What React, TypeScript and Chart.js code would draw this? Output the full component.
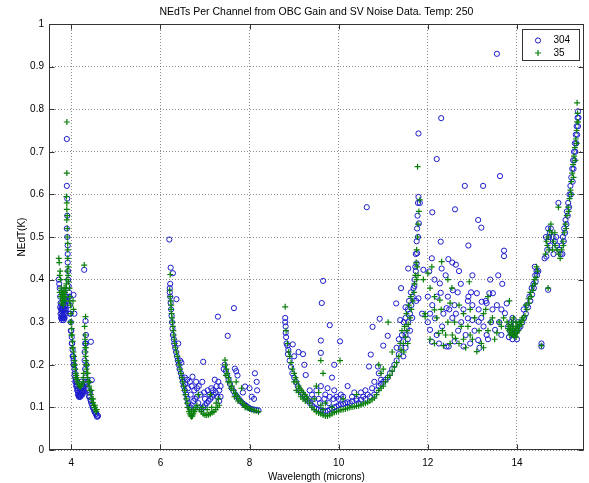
import React, { useEffect, useRef } from "react";
import { Chart, registerables } from "chart.js";

Chart.register(...registerables);

const TITLE = "NEdTs Per Channel from OBC Gain and SV Noise Data. Temp: 250";
const X_LABEL = "Wavelength (microns)";
const Y_LABEL = "NEdT(K)";
const SERIES_NAMES = ["304", "35"];
const X_MIN = 3.5;
const X_MAX = 15.5;
const Y_MIN = 0;
const Y_MAX = 1;
const X_TICKS = [4, 6, 8, 10, 12, 14];
const Y_TICKS = [0, 0.1, 0.2, 0.3, 0.4, 0.5, 0.6, 0.7, 0.8, 0.9, 1];

type P = [number, number];

// ---- shortwave band (3.7 - 4.6 um)
const band1Ch304: P[] = [
  [3.72, 0.4], [3.73, 0.39], [3.74, 0.38], [3.75, 0.36], [3.76, 0.345], [3.77, 0.33], [3.78, 0.32],
  [3.79, 0.315], [3.8, 0.31], [3.81, 0.31], [3.82, 0.315], [3.83, 0.32], [3.84, 0.33], [3.85, 0.325],
  [3.86, 0.33], [3.87, 0.34], [3.88, 0.35], [3.89, 0.36], [3.77, 0.31], [3.79, 0.33], [3.81, 0.335],
  [3.83, 0.34], [3.8, 0.345], [3.84, 0.31], [3.86, 0.355],
  [3.76, 0.32], [3.78, 0.335], [3.8, 0.325], [3.82, 0.33], [3.84, 0.345], [3.85, 0.31], [3.87, 0.32],
  [3.88, 0.33], [3.75, 0.335], [3.79, 0.305], [3.83, 0.305],
  [3.9, 0.73], [3.9, 0.62], [3.91, 0.59], [3.91, 0.55], [3.9, 0.52], [3.91, 0.5], [3.92, 0.48],
  [3.92, 0.46], [3.92, 0.44], [3.93, 0.42], [3.93, 0.4], [3.94, 0.385], [3.95, 0.37], [4.05, 0.364],
  [4.07, 0.32],
  [3.96, 0.36], [3.97, 0.34], [3.98, 0.32], [3.99, 0.3], [4.0, 0.28], [4.01, 0.265], [4.02, 0.25],
  [4.03, 0.235], [4.04, 0.22], [4.05, 0.21], [4.06, 0.2], [4.07, 0.19], [4.08, 0.18], [4.09, 0.17],
  [4.1, 0.165], [4.11, 0.16], [4.12, 0.155], [4.13, 0.15], [4.14, 0.145], [4.15, 0.14],
  [3.97, 0.32], [3.99, 0.28], [4.01, 0.25], [4.03, 0.22], [4.05, 0.2], [4.07, 0.175], [4.09, 0.16],
  [4.11, 0.15], [4.13, 0.14], [4.15, 0.13], [4.17, 0.125],
  [4.16, 0.135], [4.17, 0.13], [4.18, 0.128], [4.19, 0.125], [4.2, 0.125], [4.21, 0.127], [4.22, 0.13],
  [4.23, 0.133], [4.24, 0.137], [4.25, 0.14], [4.26, 0.145], [4.27, 0.15], [4.18, 0.145], [4.2, 0.14],
  [4.22, 0.145], [4.24, 0.15], [4.19, 0.155], [4.23, 0.16], [4.21, 0.135], [4.25, 0.13], [4.27, 0.135],
  [4.28, 0.145],
  [4.29, 0.423], [4.32, 0.303], [4.31, 0.25], [4.3, 0.23], [4.3, 0.21], [4.31, 0.19], [4.32, 0.17],
  [4.33, 0.16], [4.34, 0.2], [4.33, 0.25], [4.33, 0.27],
  [4.35, 0.155], [4.37, 0.145], [4.39, 0.135], [4.41, 0.125], [4.43, 0.118], [4.45, 0.11], [4.47, 0.105],
  [4.49, 0.1], [4.51, 0.095], [4.53, 0.09], [4.55, 0.085], [4.57, 0.08], [4.58, 0.078], [4.44, 0.254],
  [4.46, 0.164], [4.38, 0.16], [4.42, 0.135], [4.36, 0.14], [4.4, 0.125], [4.44, 0.115], [4.48, 0.1],
  [4.52, 0.09], [4.56, 0.085], [4.6, 0.08],
];

const band1Ch35: P[] = [
  [3.72, 0.45], [3.73, 0.44], [3.75, 0.42], [3.74, 0.41], [3.76, 0.4], [3.77, 0.38], [3.78, 0.37],
  [3.79, 0.36], [3.8, 0.355], [3.81, 0.35], [3.82, 0.36], [3.83, 0.37], [3.84, 0.365], [3.85, 0.36],
  [3.86, 0.37], [3.87, 0.375], [3.88, 0.38], [3.89, 0.39], [3.78, 0.345], [3.82, 0.34], [3.86, 0.35],
  [3.74, 0.37], [3.76, 0.36], [3.8, 0.37], [3.84, 0.38], [3.88, 0.36],
  [3.9, 0.77], [3.9, 0.65], [3.89, 0.595], [3.9, 0.58], [3.9, 0.565], [3.91, 0.55], [3.9, 0.54],
  [3.91, 0.52], [3.91, 0.5], [3.92, 0.485], [3.92, 0.47], [3.92, 0.45], [3.93, 0.43], [3.93, 0.41],
  [3.94, 0.395], [4.04, 0.35], [4.05, 0.33], [3.9, 0.4], [3.91, 0.42],
  [3.96, 0.38], [3.97, 0.36], [3.98, 0.34], [3.99, 0.32], [4.0, 0.3], [4.01, 0.285], [4.02, 0.27],
  [4.03, 0.255], [4.04, 0.24], [4.05, 0.23], [4.06, 0.22], [4.07, 0.21], [4.08, 0.2], [4.09, 0.19],
  [4.1, 0.18], [4.11, 0.175], [4.12, 0.17], [4.13, 0.165], [4.14, 0.16], [4.16, 0.155], [4.18, 0.15],
  [4.2, 0.148], [4.22, 0.15], [4.24, 0.155], [4.26, 0.16], [4.27, 0.17], [4.28, 0.18],
  [3.96, 0.35], [3.98, 0.3], [4.0, 0.27], [4.02, 0.24], [4.06, 0.2], [4.1, 0.17],
  [4.29, 0.434], [4.32, 0.313], [4.31, 0.27], [4.31, 0.26], [4.32, 0.25], [4.31, 0.24], [4.32, 0.23],
  [4.32, 0.22], [4.33, 0.21], [4.33, 0.2], [4.34, 0.19], [4.35, 0.18], [4.36, 0.17], [4.3, 0.29],
  [4.33, 0.24], [4.35, 0.2], [4.37, 0.18],
  [4.38, 0.16], [4.4, 0.15], [4.42, 0.14], [4.44, 0.13], [4.46, 0.12], [4.48, 0.112], [4.5, 0.105],
  [4.52, 0.1], [4.54, 0.095], [4.56, 0.09], [4.41, 0.16], [4.45, 0.14], [4.49, 0.12], [4.53, 0.105],
  [4.57, 0.095],
];

// ---- midwave band (6.2 - 8.2 um)
const band2Ch304: P[] = [
  [6.2, 0.494], [6.23, 0.428], [6.28, 0.415], [6.22, 0.39], [6.21, 0.38], [6.21, 0.37], [6.36, 0.354],
  [6.22, 0.36], [6.23, 0.345], [6.24, 0.33], [6.25, 0.315], [6.26, 0.3], [6.27, 0.285], [6.28, 0.27],
  [6.3, 0.26], [6.31, 0.25], [6.33, 0.24], [6.35, 0.23], [6.37, 0.22], [6.39, 0.21], [6.41, 0.2],
  [6.43, 0.19], [6.46, 0.18], [6.48, 0.17], [6.5, 0.16], [6.52, 0.15], [6.55, 0.14], [6.58, 0.13],
  [6.6, 0.12], [6.4, 0.25], [6.44, 0.21], [6.47, 0.205], [6.55, 0.17], [6.6, 0.165], [6.66, 0.16],
  [6.72, 0.172], [6.96, 0.207], [6.94, 0.16], [7.22, 0.165], [7.29, 0.313], [7.51, 0.268], [7.65, 0.333],
  [6.62, 0.11], [6.65, 0.1], [6.68, 0.1], [6.7, 0.105], [6.74, 0.115], [6.78, 0.12], [6.82, 0.125],
  [6.85, 0.11], [6.88, 0.1], [6.92, 0.095], [6.96, 0.1], [7.0, 0.105], [7.04, 0.11], [7.08, 0.115],
  [7.12, 0.12], [7.16, 0.125], [7.2, 0.13], [7.24, 0.135], [7.28, 0.125], [7.32, 0.115], [6.9, 0.13],
  [6.98, 0.135], [7.06, 0.14], [7.14, 0.145], [6.76, 0.14], [6.82, 0.145], [7.3, 0.16], [7.35, 0.15],
  [6.55, 0.155], [6.62, 0.145], [6.68, 0.13], [6.7, 0.15], [6.8, 0.16], [6.86, 0.15], [7.0, 0.12],
  [7.1, 0.13], [7.18, 0.14], [7.26, 0.15], [7.32, 0.14], [7.35, 0.125],
  [7.42, 0.19], [7.44, 0.2], [7.47, 0.185], [7.5, 0.175], [7.53, 0.165], [7.56, 0.155], [7.6, 0.145],
  [7.64, 0.138], [7.68, 0.13], [7.72, 0.125], [7.76, 0.12], [7.8, 0.115], [7.84, 0.11], [7.88, 0.107],
  [7.92, 0.104], [7.96, 0.101], [8.0, 0.098], [8.05, 0.096], [8.1, 0.095], [8.15, 0.094], [8.2, 0.093],
  [7.67, 0.191], [7.7, 0.185], [7.73, 0.175], [7.9, 0.149], [8.0, 0.145], [8.12, 0.18], [8.16, 0.16],
  [8.17, 0.14], [7.85, 0.135], [8.05, 0.125], [8.1, 0.12],
];

const band2Ch35: P[] = [
  [6.22, 0.412], [6.21, 0.375], [6.22, 0.36], [6.23, 0.35], [6.24, 0.34], [6.24, 0.33], [6.25, 0.32],
  [6.26, 0.31], [6.27, 0.3], [6.28, 0.29], [6.29, 0.28], [6.3, 0.27], [6.31, 0.26], [6.32, 0.25],
  [6.34, 0.24], [6.36, 0.23], [6.38, 0.22], [6.4, 0.21], [6.42, 0.2], [6.44, 0.19], [6.46, 0.18],
  [6.48, 0.17], [6.5, 0.16], [6.52, 0.15], [6.54, 0.14], [6.56, 0.13], [6.58, 0.12], [6.6, 0.11],
  [6.62, 0.1], [6.64, 0.09], [6.66, 0.085], [6.68, 0.08], [6.7, 0.078], [6.72, 0.08], [6.74, 0.085],
  [6.76, 0.09], [6.78, 0.095], [6.8, 0.1], [6.82, 0.105], [6.66, 0.095], [6.7, 0.09], [6.74, 0.095],
  [6.88, 0.095], [6.92, 0.09], [6.96, 0.085], [7.0, 0.082], [7.04, 0.082], [7.08, 0.083], [7.12, 0.085],
  [7.16, 0.088], [7.2, 0.09], [7.24, 0.095], [7.28, 0.1], [7.32, 0.105], [6.95, 0.1], [7.05, 0.095],
  [7.15, 0.1], [7.25, 0.11], [7.3, 0.12], [6.85, 0.13], [7.12, 0.13],
  [7.45, 0.211], [7.46, 0.2], [7.48, 0.19], [7.5, 0.18], [7.53, 0.17], [7.56, 0.16], [7.6, 0.15],
  [7.64, 0.14], [7.68, 0.133], [7.72, 0.127], [7.76, 0.12], [7.8, 0.115], [7.84, 0.11], [7.88, 0.106],
  [7.92, 0.102], [7.96, 0.099], [8.0, 0.097], [8.05, 0.095], [8.1, 0.093], [8.15, 0.092], [8.2, 0.09],
  [7.7, 0.16], [7.82, 0.145], [7.47, 0.175], [7.52, 0.16], [7.58, 0.145], [7.66, 0.125], [7.74, 0.115],
  [7.9, 0.1],
];

// ---- longwave band (8.8 - 11.8 um)
const band3Ch304: P[] = [
  [8.8, 0.31], [8.8, 0.3], [8.81, 0.29], [8.81, 0.275], [8.82, 0.265], [8.83, 0.25], [8.85, 0.245],
  [8.97, 0.248], [8.86, 0.225], [9.0, 0.22], [9.1, 0.23], [9.2, 0.225], [9.23, 0.2], [9.26, 0.176],
  [8.87, 0.235], [8.9, 0.21], [8.93, 0.195], [8.96, 0.18], [9.0, 0.17], [9.04, 0.16], [9.08, 0.15],
  [9.12, 0.14], [9.16, 0.135], [9.2, 0.13], [9.24, 0.125], [9.28, 0.12], [9.32, 0.115],
  [9.36, 0.11], [9.4, 0.105], [9.45, 0.1], [9.5, 0.097], [9.55, 0.095], [9.6, 0.093], [9.65, 0.092],
  [9.7, 0.09], [9.75, 0.092], [9.8, 0.095], [9.85, 0.097], [9.9, 0.1], [9.95, 0.102], [10.0, 0.105],
  [10.05, 0.107], [10.1, 0.108], [10.15, 0.11], [10.2, 0.112], [10.3, 0.114], [10.4, 0.116],
  [10.5, 0.118], [10.6, 0.12], [10.7, 0.125], [10.8, 0.13],
  [9.4, 0.13], [9.5, 0.14], [9.55, 0.12], [9.6, 0.15], [9.7, 0.13], [9.75, 0.145], [9.8, 0.125],
  [9.85, 0.17], [9.9, 0.14], [9.95, 0.125], [10.05, 0.13], [10.2, 0.15], [10.3, 0.125], [10.4, 0.12],
  [10.5, 0.135], [10.6, 0.14], [9.35, 0.14], [9.45, 0.12], [9.58, 0.11], [9.68, 0.12], [9.78, 0.11],
  [9.88, 0.12], [10.0, 0.12], [10.1, 0.125], [10.25, 0.11], [10.35, 0.135], [10.45, 0.11],
  [10.55, 0.125], [10.65, 0.13], [10.75, 0.145], [10.8, 0.16],
  [9.65, 0.397], [9.62, 0.345], [9.8, 0.293], [9.6, 0.257], [10.03, 0.255],
  [9.6, 0.228], [9.9, 0.2], [10.68, 0.196], [10.72, 0.224], [10.76, 0.289], [10.92, 0.308], [11.0, 0.245],
  [11.1, 0.268], [11.29, 0.344], [11.4, 0.38], [11.5, 0.335], [11.38, 0.305], [10.88, 0.196],
  [10.9, 0.18], [10.95, 0.165], [10.63, 0.57],
  [10.85, 0.14], [10.9, 0.15], [10.95, 0.155], [11.0, 0.16], [11.05, 0.165], [11.1, 0.17], [11.15, 0.18],
  [11.2, 0.19], [11.25, 0.2], [11.3, 0.21], [11.35, 0.225], [11.4, 0.24], [11.45, 0.255], [11.5, 0.27],
  [11.53, 0.285], [11.56, 0.3], [11.6, 0.32], [11.63, 0.34], [11.66, 0.36], [11.68, 0.38], [11.7, 0.4],
  [11.72, 0.43], [11.73, 0.46], [11.75, 0.49], [11.76, 0.52], [11.77, 0.55], [11.78, 0.58],
  [11.79, 0.594], [11.82, 0.58], [11.8, 0.532], [11.78, 0.5], [11.76, 0.462], [11.75, 0.438],
  [11.73, 0.42], [11.56, 0.426], [11.7, 0.385], [11.74, 0.35],
  [11.3, 0.24], [11.35, 0.26], [11.42, 0.27], [11.46, 0.3], [11.5, 0.31], [11.55, 0.33], [11.58, 0.35],
  [11.62, 0.37], [11.45, 0.22], [11.5, 0.24], [11.55, 0.26], [11.6, 0.28], [11.65, 0.31],
];

const band3Ch35: P[] = [
  [8.8, 0.336], [8.82, 0.28], [8.85, 0.25], [8.88, 0.23], [8.9, 0.22], [8.93, 0.205], [8.96, 0.19],
  [9.0, 0.18], [9.03, 0.17], [9.06, 0.16], [9.1, 0.15], [9.13, 0.145], [9.16, 0.14], [9.2, 0.135],
  [9.24, 0.13], [9.28, 0.125], [9.3, 0.12], [9.0, 0.16], [9.05, 0.14], [9.1, 0.135], [9.15, 0.125],
  [9.2, 0.12], [9.25, 0.115],
  [9.35, 0.11], [9.4, 0.1], [9.45, 0.095], [9.5, 0.09], [9.55, 0.087], [9.6, 0.085], [9.65, 0.082],
  [9.7, 0.08], [9.75, 0.08], [9.8, 0.082], [9.85, 0.085], [9.9, 0.088], [9.95, 0.09], [10.0, 0.092],
  [10.05, 0.094], [10.1, 0.095], [10.15, 0.096], [10.2, 0.098], [10.25, 0.1], [10.3, 0.101],
  [10.35, 0.102], [10.4, 0.103], [10.45, 0.104], [10.5, 0.106], [10.55, 0.108], [10.6, 0.11],
  [10.65, 0.112], [10.7, 0.115], [10.75, 0.118], [10.8, 0.122], [9.45, 0.12], [9.6, 0.105], [9.7, 0.11],
  [9.65, 0.095], [9.85, 0.1],
  [9.6, 0.21], [10.03, 0.21], [9.65, 0.18], [9.5, 0.15], [9.55, 0.135], [11.11, 0.3], [10.9, 0.2],
  [10.95, 0.18], [11.0, 0.19], [10.4, 0.13], [10.1, 0.12], [11.2, 0.23],
  [10.85, 0.13], [10.9, 0.14], [10.95, 0.145], [11.0, 0.15], [11.05, 0.16], [11.1, 0.17], [11.15, 0.175],
  [11.2, 0.185], [11.25, 0.195], [11.3, 0.205], [11.35, 0.22], [11.4, 0.235], [11.45, 0.25], [11.5, 0.265],
  [11.53, 0.28], [11.56, 0.295], [11.6, 0.31], [11.63, 0.33], [11.66, 0.35], [11.69, 0.37], [11.7, 0.39],
  [11.72, 0.41], [11.74, 0.44], [11.75, 0.47], [11.77, 0.5], [11.78, 0.53], [11.8, 0.56], [11.82, 0.587],
  [11.77, 0.665], [11.78, 0.41], [11.76, 0.43], [11.75, 0.4],
  [11.38, 0.25], [11.42, 0.28], [11.48, 0.29], [11.52, 0.32], [11.57, 0.34], [11.62, 0.36],
  [11.46, 0.23], [11.55, 0.25],
];

// ---- very-longwave band (11.8 - 15.4 um)
const band4Ch304: P[] = [
  [12.3, 0.779], [11.79, 0.743], [12.2, 0.683], [12.83, 0.62], [13.24, 0.62], [13.62, 0.643],
  [12.61, 0.565], [12.1, 0.558], [13.13, 0.54], [13.2, 0.522], [12.29, 0.489], [12.91, 0.48],
  [13.71, 0.468], [13.71, 0.455], [12.46, 0.448], [12.55, 0.44], [12.63, 0.435], [13.55, 0.93],
  [11.9, 0.423], [12.03, 0.419], [12.09, 0.45], [12.31, 0.426], [12.27, 0.391], [12.29, 0.369],
  [12.74, 0.39], [12.97, 0.37], [12.91, 0.36], [13.1, 0.368], [13.21, 0.348], [13.3, 0.35],
  [13.38, 0.368], [13.46, 0.368], [13.58, 0.41], [13.67, 0.39], [12.67, 0.37], [12.56, 0.375],
  [11.79, 0.356], [11.87, 0.32], [12.05, 0.32], [12.16, 0.309], [12.42, 0.333], [12.48, 0.33],
  [12.63, 0.32], [12.9, 0.35], [13.14, 0.33], [13.32, 0.345], [12.9, 0.309], [13.0, 0.305],
  [13.14, 0.301], [13.51, 0.282], [13.73, 0.321], [13.77, 0.344], [12.05, 0.282], [12.32, 0.29],
  [12.68, 0.28], [12.47, 0.243], [12.8, 0.243], [12.42, 0.243], [12.09, 0.254], [13.13, 0.258],
  [13.16, 0.24], [13.32, 0.27], [13.25, 0.29], [12.2, 0.27], [12.0, 0.3], [13.42, 0.3], [13.6, 0.3],
  [12.55, 0.31], [12.75, 0.3], [13.05, 0.28],
  [12.0, 0.36], [12.1, 0.34], [12.2, 0.36], [12.35, 0.32], [12.45, 0.36], [12.6, 0.34], [12.8, 0.33],
  [12.85, 0.27], [13.0, 0.34], [13.2, 0.31], [13.45, 0.33], [13.55, 0.34], [13.65, 0.33], [12.25, 0.25],
  [12.6, 0.255], [12.95, 0.25], [13.35, 0.26], [13.65, 0.27], [12.15, 0.4], [12.4, 0.41], [12.7, 0.42],
  [13.0, 0.41], [13.4, 0.4],
  [13.8, 0.29], [13.84, 0.28], [13.88, 0.275], [13.92, 0.27], [13.96, 0.275], [14.0, 0.28],
  [14.04, 0.285], [14.08, 0.29], [14.12, 0.3], [14.16, 0.31], [13.86, 0.3], [13.9, 0.31],
  [13.95, 0.295], [14.02, 0.3], [13.82, 0.265], [13.9, 0.26], [14.0, 0.26],
  [14.2, 0.32], [14.25, 0.335], [14.3, 0.35], [14.34, 0.365], [14.38, 0.38], [14.42, 0.395],
  [14.45, 0.41], [14.48, 0.42], [14.4, 0.43], [14.55, 0.243], [14.55, 0.25], [14.7, 0.376],
  [14.15, 0.33], [14.22, 0.34], [14.28, 0.36], [14.33, 0.38], [14.37, 0.39], [14.41, 0.41], [14.44, 0.42],
  [14.62, 0.45], [14.66, 0.454], [14.68, 0.47], [14.7, 0.49], [14.72, 0.5], [14.74, 0.51], [14.76, 0.52],
  [14.8, 0.5], [14.85, 0.49], [14.9, 0.48], [14.95, 0.47], [14.98, 0.46], [14.7, 0.52], [14.75, 0.48],
  [14.82, 0.46], [14.88, 0.5], [14.65, 0.5], [14.93, 0.58],
  [15.0, 0.48], [15.03, 0.5], [15.06, 0.52], [15.09, 0.54], [15.12, 0.56], [15.15, 0.58], [15.18, 0.6],
  [15.2, 0.62], [15.22, 0.64], [15.24, 0.66], [15.26, 0.68], [15.28, 0.7], [15.3, 0.72], [15.32, 0.74],
  [15.34, 0.76], [15.36, 0.78], [15.37, 0.795],
  [15.02, 0.46], [15.05, 0.49], [15.08, 0.51], [15.11, 0.53], [15.14, 0.55], [15.17, 0.57], [15.21, 0.6],
  [15.25, 0.63], [15.27, 0.66], [15.29, 0.68], [15.31, 0.7], [15.33, 0.72], [15.35, 0.74], [15.37, 0.76],
  [15.38, 0.78],
];

const band4Ch35: P[] = [
  [12.31, 0.442], [12.09, 0.43],
  [11.9, 0.4], [12.0, 0.415], [12.54, 0.38], [12.93, 0.395], [12.27, 0.352], [12.15, 0.329],
  [11.94, 0.32], [12.5, 0.345], [13.3, 0.33], [13.35, 0.36], [12.7, 0.34], [12.95, 0.33], [13.05, 0.31],
  [13.4, 0.3], [13.55, 0.275], [13.83, 0.35],
  [12.24, 0.274], [12.4, 0.27], [12.5, 0.25], [12.33, 0.28], [12.62, 0.262], [12.75, 0.29],
  [12.85, 0.24], [13.1, 0.231], [13.2, 0.25], [13.35, 0.28], [12.15, 0.25], [12.05, 0.26], [12.95, 0.27],
  [13.6, 0.3], [13.7, 0.31], [11.94, 0.313], [12.7, 0.25],
  [12.05, 0.38], [12.2, 0.31], [12.3, 0.33], [12.45, 0.3], [12.6, 0.3], [12.8, 0.32], [12.9, 0.29],
  [13.0, 0.26], [13.15, 0.28], [13.25, 0.32], [13.45, 0.31], [13.5, 0.26], [13.65, 0.29], [12.35, 0.245],
  [12.55, 0.27], [12.8, 0.26], [13.25, 0.24], [12.45, 0.4], [12.15, 0.36],
  [13.78, 0.3], [13.8, 0.285], [13.83, 0.28], [13.86, 0.275], [13.9, 0.27], [13.93, 0.268],
  [13.96, 0.27], [14.0, 0.275], [14.03, 0.28], [14.06, 0.29], [14.1, 0.295], [14.14, 0.305],
  [13.85, 0.29], [13.9, 0.285], [13.95, 0.28], [14.0, 0.29], [14.05, 0.3], [13.88, 0.3], [13.92, 0.31],
  [13.98, 0.3], [13.82, 0.29], [13.87, 0.285], [13.92, 0.29], [13.97, 0.285], [14.02, 0.29],
  [14.07, 0.3], [14.12, 0.31], [13.84, 0.27], [13.9, 0.275], [13.98, 0.265],
  [14.18, 0.315], [14.22, 0.33], [14.27, 0.345], [14.32, 0.36], [14.36, 0.375], [14.4, 0.39],
  [14.43, 0.405], [14.46, 0.42], [14.55, 0.245], [14.7, 0.38],
  [14.2, 0.34], [14.26, 0.355], [14.3, 0.37], [14.35, 0.385], [14.39, 0.4], [14.44, 0.43],
  [14.64, 0.46], [14.68, 0.48], [14.7, 0.5], [14.73, 0.515], [14.76, 0.53], [14.78, 0.51], [14.82, 0.49],
  [14.86, 0.48], [14.9, 0.47], [14.94, 0.46], [14.97, 0.45], [14.72, 0.47], [14.8, 0.47], [14.85, 0.51],
  [14.66, 0.49], [14.93, 0.57],
  [15.0, 0.47], [15.03, 0.49], [15.06, 0.51], [15.09, 0.53], [15.12, 0.55], [15.15, 0.57], [15.18, 0.59],
  [15.2, 0.61], [15.22, 0.63], [15.24, 0.65], [15.26, 0.67], [15.28, 0.69], [15.3, 0.71], [15.32, 0.73],
  [15.34, 0.75], [15.35, 0.77], [15.36, 0.79], [15.35, 0.815],
  [15.04, 0.48], [15.1, 0.52], [15.16, 0.56], [15.22, 0.6], [15.27, 0.64], [15.31, 0.68], [15.34, 0.72],
  [15.37, 0.77],
];

const ch304 = [...band1Ch304, ...band2Ch304, ...band3Ch304, ...band4Ch304];
const ch35 = [...band1Ch35, ...band2Ch35, ...band3Ch35, ...band4Ch35];

const BLUE = "rgb(28,28,205)";
const GREEN = "rgb(10,128,10)";
const FONT = "'Liberation Sans', Arial, Helvetica, sans-serif";

const toXY = (pts: P[]) => pts.map(([x, y]) => ({ x, y }));

// Frame, inner tick marks, title, axis titles and legend in MATLAB style
const matlabFrame = {
  id: "matlabFrame",
  beforeDraw(chart: any) {
    const ctx = chart.ctx;
    ctx.save();
    ctx.fillStyle = "#ffffff";
    ctx.fillRect(0, 0, chart.width, chart.height);
    ctx.restore();
  },
  afterDatasetsDraw(chart: any) {
    const ctx = chart.ctx;
    const a = chart.chartArea;
    const xs = chart.scales.x;
    const ys = chart.scales.y;
    const L = Math.round(a.left) + 0.5;
    const R = Math.round(a.right) - 0.5;
    const T = Math.round(a.top) + 0.5;
    const B = Math.round(a.bottom) - 0.5;
    ctx.save();
    ctx.strokeStyle = "#333333";
    ctx.lineWidth = 1;
    ctx.strokeRect(L, T, R - L, B - T);
    ctx.beginPath();
    const tl = 5;
    X_TICKS.forEach((v) => {
      const px = Math.round(xs.getPixelForValue(v)) + 0.5;
      ctx.moveTo(px, B);
      ctx.lineTo(px, B - tl);
      ctx.moveTo(px, T);
      ctx.lineTo(px, T + tl);
    });
    Y_TICKS.forEach((v) => {
      const py = Math.round(ys.getPixelForValue(v)) + 0.5;
      ctx.moveTo(L, py);
      ctx.lineTo(L + tl, py);
      ctx.moveTo(R, py);
      ctx.lineTo(R - tl, py);
    });
    ctx.stroke();

    // legend
    const lx = 522.5;
    const ly = 29.5;
    const lw = 57;
    const lh = 31;
    ctx.fillStyle = "#ffffff";
    ctx.fillRect(lx, ly, lw, lh);
    ctx.strokeStyle = "#333333";
    ctx.strokeRect(lx, ly, lw, lh);
    const rowY = [ly + 11, ly + 23.5];
    const mx = lx + 15.5;
    ctx.strokeStyle = BLUE;
    ctx.beginPath();
    ctx.arc(mx, rowY[0], 2.6, 0, Math.PI * 2);
    ctx.stroke();
    ctx.strokeStyle = GREEN;
    ctx.lineWidth = 1.2;
    ctx.beginPath();
    ctx.moveTo(mx - 3, rowY[1]);
    ctx.lineTo(mx + 3, rowY[1]);
    ctx.moveTo(mx, rowY[1] - 3);
    ctx.lineTo(mx, rowY[1] + 3);
    ctx.stroke();
    ctx.fillStyle = "#000000";
    ctx.font = `10px ${FONT}`;
    ctx.textAlign = "left";
    ctx.textBaseline = "middle";
    ctx.fillText(SERIES_NAMES[0], lx + 31, rowY[0]);
    ctx.fillText(SERIES_NAMES[1], lx + 31, rowY[1]);

    // titles
    const cx = (a.left + a.right) / 2;
    ctx.textAlign = "center";
    ctx.font = `10.5px ${FONT}`;
    ctx.fillText(TITLE, cx, 12);
    ctx.font = `10px ${FONT}`;
    ctx.fillText(X_LABEL, cx, 477);
    ctx.translate(22, (a.top + a.bottom) / 2);
    ctx.rotate(-Math.PI / 2);
    ctx.fillText(Y_LABEL, 0, 0);
    ctx.restore();
  },
};

export default function App() {
  const canvasRef = useRef<HTMLCanvasElement | null>(null);

  useEffect(() => {
    const canvas = canvasRef.current;
    if (!canvas) return;
    const chart = new Chart(canvas, {
      type: "scatter",
      data: {
        datasets: [
          {
            label: SERIES_NAMES[0],
            data: toXY(ch304),
            pointStyle: "circle",
            pointRadius: 2.6,
            pointBorderWidth: 1,
            pointBorderColor: BLUE,
            pointBackgroundColor: "rgba(0,0,0,0)",
            order: 2,
          },
          {
            label: SERIES_NAMES[1],
            data: toXY(ch35),
            pointStyle: "cross",
            pointRadius: 3,
            pointBorderWidth: 1.2,
            pointBorderColor: GREEN,
            pointBackgroundColor: GREEN,
            order: 1,
          },
        ],
      },
      options: {
        responsive: false,
        animation: false,
        devicePixelRatio: 1,
        layout: { padding: { top: 24, right: 5, left: 0, bottom: 0 } },
        plugins: {
          legend: { display: false },
          title: { display: false },
          tooltip: { enabled: false },
        },
        scales: {
          x: {
            type: "linear",
            min: X_MIN,
            max: X_MAX,
            afterBuildTicks: (s: any) => {
              s.ticks = X_TICKS.map((v) => ({ value: v }));
            },
            afterFit: (s: any) => {
              s.height = 33;
            },
            grid: {
              color: "rgba(0,0,0,0.45)",
              drawTicks: false,
              lineWidth: 1,
            },
            border: { display: false, dash: [1, 2] },
            ticks: {
              padding: 7,
              color: "#000",
              font: { family: FONT, size: 10 },
              maxRotation: 0,
              callback: (v: any) => String(v),
            },
          },
          y: {
            type: "linear",
            min: Y_MIN,
            max: Y_MAX,
            afterBuildTicks: (s: any) => {
              s.ticks = Y_TICKS.map((v) => ({ value: v }));
            },
            afterFit: (s: any) => {
              s.width = 49;
            },
            grid: {
              color: "rgba(0,0,0,0.45)",
              drawTicks: false,
              lineWidth: 1,
            },
            border: { display: false, dash: [1, 2] },
            ticks: {
              padding: 5,
              color: "#000",
              font: { family: FONT, size: 10 },
              callback: (v: any) => (v === 0 || v === 1 ? String(v) : Number(v).toFixed(1)),
            },
          },
        },
      },
      plugins: [matlabFrame],
    } as any);
    return () => chart.destroy();
  }, []);

  return (
    <div style={{ position: "fixed", left: 0, top: 0, width: 589, height: 483, background: "#fff" }}>
      <canvas ref={canvasRef} width={589} height={483} style={{ display: "block" }} />
    </div>
  );
}
